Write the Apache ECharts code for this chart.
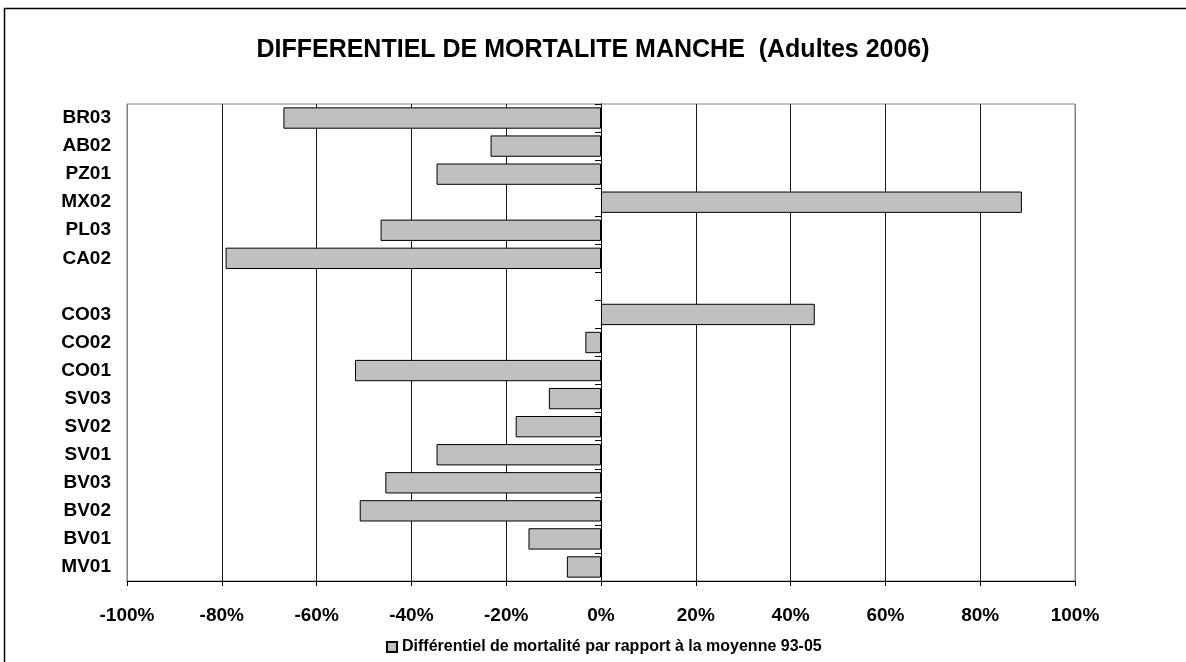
<!DOCTYPE html>
<html>
<head>
<meta charset="utf-8">
<script src="https://cdn.jsdelivr.net/npm/echarts@6/dist/echarts.min.js"></script>
<style>
html,body{margin:0;padding:0;background:#fff;}
#chart{width:1186px;height:662px;}
</style>
</head>
<body>
<div id="chart"></div>
<script>
// Categories listed bottom to top; '' is the empty separator row
const categories = ['MV01','BV01','BV02','BV03','SV01','SV02','SV03','CO01','CO02','CO03','','CA02','PL03','MX02','PZ01','AB02','BR03'];
const values = [-7.2,-15.3,-50.9,-45.5,-34.7,-18.0,-11.0,-51.9,-3.3,45.1,null,-79.2,-46.5,88.8,-34.7,-23.3,-67.0];
const xTicks = [-100,-80,-60,-40,-20,0,20,40,60,80,100];
const seriesName = 'Différentiel de mortalité par rapport à la moyenne 93-05';
const titleText = 'DIFFERENTIEL DE MORTALITE MANCHE  (Adultes 2006)';

const FONT = 'Liberation Sans, Arial, sans-serif';
const gridColors = xTicks.map((t, i) => (i === 0 || i === xTicks.length - 1) ? '#808080' : '#1a1a1a');

const chart = echarts.init(document.getElementById('chart'), null, {renderer: 'canvas'});
chart.setOption({
  backgroundColor: '#fff',
  animation: false,
  graphic: [{
    type: 'rect', z: -1, silent: true,
    shape: {x: 4.5, y: 8.5, width: 1400, height: 900},
    style: {fill: 'none', stroke: '#000', lineWidth: 1.5}
  }],
  title: {
    text: titleText,
    left: 'center',
    top: 33,
    textStyle: {fontFamily: FONT, fontWeight: 'bold', fontSize: 25, color: '#000'}
  },
  legend: {
    data: [seriesName],
    left: 381,
    top: 634,
    icon: 'rect',
    itemWidth: 10,
    itemHeight: 10,
    textStyle: {fontFamily: FONT, fontWeight: 'bold', fontSize: 16, color: '#000'}
  },
  grid: {
    left: 127, right: 111, top: 104, bottom: 81,
    show: true, borderColor: '#808080', borderWidth: 1, backgroundColor: '#fff'
  },
  xAxis: {
    type: 'value',
    min: -100, max: 100, interval: 20,
    axisLine: {show: true, lineStyle: {color: '#000', width: 1}},
    axisTick: {show: true, length: 5, lineStyle: {color: '#000'}},
    axisLabel: {
      formatter: '{value}%', margin: 25,
      fontFamily: FONT, fontWeight: 'bold', fontSize: 19, color: '#000'
    },
    splitLine: {show: true, lineStyle: {color: gridColors, width: 1}}
  },
  yAxis: [{
    type: 'category',
    data: categories,
    position: 'left',
    axisLine: {show: false, onZero: false},
    axisTick: {show: false},
    axisLabel: {margin: 16, padding: [4, 0, 0, 0], fontFamily: FONT, fontWeight: 'bold', fontSize: 19, color: '#000'},
    splitLine: {show: false}
  }, {
    type: 'category',
    data: categories,
    position: 'left',
    axisLine: {show: true, onZero: true, lineStyle: {color: '#000', width: 1}},
    axisTick: {show: true, length: 6, lineStyle: {color: '#000'}},
    axisLabel: {show: false},
    splitLine: {show: false}
  }],
  series: [{
    name: seriesName,
    type: 'bar',
    yAxisIndex: 0,
    data: values,
    barWidth: '76%',
    itemStyle: {color: '#c0c0c0', borderColor: '#000', borderWidth: 1}
  }]
});
</script>
</body>
</html>
